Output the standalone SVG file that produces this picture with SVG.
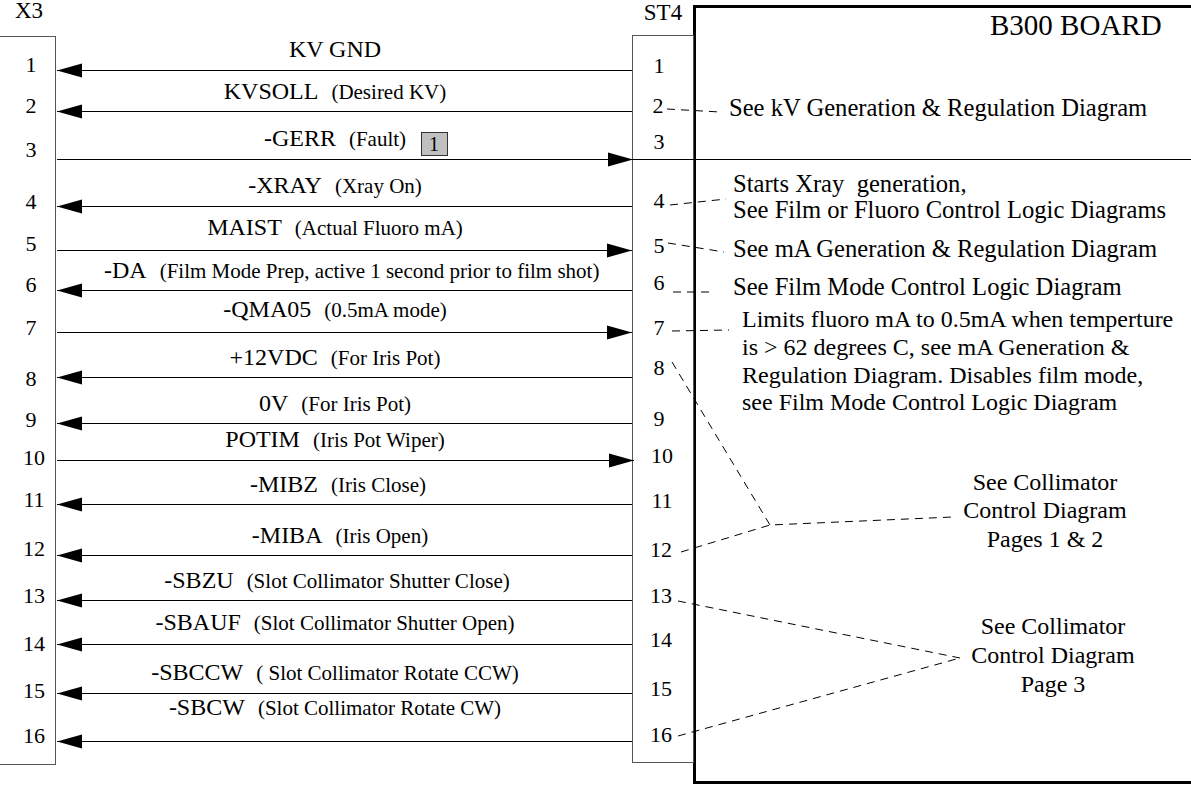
<svg xmlns="http://www.w3.org/2000/svg" width="1191" height="787" viewBox="0 0 1191 787">
<style>
text{font-family:'Liberation Serif','DejaVu Serif','Times New Roman',serif;fill:#000}
.pin{font-size:22px;text-anchor:middle}
.m{font-size:24px}
.p{font-size:21px}
.lbl{text-anchor:middle}
.note{font-size:24.6px}
.lim{font-size:24px}
.cn{font-size:24px;text-anchor:middle}
.w{stroke:#000;stroke-width:1;fill:none}
.d{stroke:#000;stroke-width:1;fill:none;stroke-dasharray:8 6}
.box{fill:#fff;stroke:#555;stroke-width:1}
</style>
<defs>
<marker id="arr" markerUnits="userSpaceOnUse" markerWidth="26" markerHeight="16" refX="25" refY="7" orient="auto" viewBox="0 0 26 14">
<path d="M0,0 L25,7 L0,14 Z" fill="#000"/>
</marker>
</defs>
<rect width="1191" height="787" fill="#fff"/>

<g id="board">
<rect x="694.5" y="6.5" width="510" height="776" fill="#fff" stroke="#000" stroke-width="3"/>
<text x="990" y="35" style="font-size:29px">B300 BOARD</text>
</g>

<g id="X3">
<rect class="box" x="-2" y="36.5" width="57.5" height="728"/>
<text x="29" y="18" style="font-size:23px;text-anchor:middle">X3</text>
<text class="pin" x="31" y="72">1</text>
<text class="pin" x="31" y="113">2</text>
<text class="pin" x="31" y="157">3</text>
<text class="pin" x="31" y="209">4</text>
<text class="pin" x="31" y="251">5</text>
<text class="pin" x="31" y="292">6</text>
<text class="pin" x="31" y="335">7</text>
<text class="pin" x="31" y="386">8</text>
<text class="pin" x="31" y="427">9</text>
<text class="pin" x="34" y="465">10</text>
<text class="pin" x="34" y="507">11</text>
<text class="pin" x="34" y="556">12</text>
<text class="pin" x="34" y="603">13</text>
<text class="pin" x="34" y="651">14</text>
<text class="pin" x="34" y="698">15</text>
<text class="pin" x="34" y="743">16</text>
</g>

<g id="ST4">
<rect class="box" x="632.5" y="35.5" width="61" height="727"/>
<text x="663" y="20" style="font-size:23px;text-anchor:middle">ST4</text>
<text class="pin" x="659" y="73">1</text>
<text class="pin" x="658" y="113">2</text>
<text class="pin" x="659" y="149">3</text>
<text class="pin" x="659" y="208">4</text>
<text class="pin" x="659" y="253">5</text>
<text class="pin" x="659" y="290">6</text>
<text class="pin" x="659" y="335">7</text>
<text class="pin" x="659" y="375">8</text>
<text class="pin" x="659" y="426">9</text>
<text class="pin" x="662" y="463">10</text>
<text class="pin" x="662" y="508">11</text>
<text class="pin" x="661" y="557">12</text>
<text class="pin" x="661" y="603">13</text>
<text class="pin" x="661" y="647">14</text>
<text class="pin" x="661" y="696">15</text>
<text class="pin" x="661" y="742">16</text>
</g>

<g id="connectors">
<line class="w" x1="632" y1="70.5" x2="57" y2="70.5" marker-end="url(#arr)"/>
<line class="w" x1="632" y1="111.5" x2="57" y2="111.5" marker-end="url(#arr)"/>
<line class="w" x1="57" y1="159.5" x2="633" y2="159.5" marker-end="url(#arr)"/>
<line class="w" x1="633" y1="159.5" x2="1191" y2="159.5"/>
<line class="w" x1="632" y1="206.5" x2="57" y2="206.5" marker-end="url(#arr)"/>
<line class="w" x1="57" y1="250.5" x2="632" y2="250.5" marker-end="url(#arr)"/>
<line class="w" x1="632" y1="290.5" x2="57" y2="290.5" marker-end="url(#arr)"/>
<line class="w" x1="57" y1="332.5" x2="632" y2="332.5" marker-end="url(#arr)"/>
<line class="w" x1="632" y1="377.5" x2="57" y2="377.5" marker-end="url(#arr)"/>
<line class="w" x1="632" y1="423.5" x2="57" y2="423.5" marker-end="url(#arr)"/>
<line class="w" x1="57" y1="460.5" x2="634" y2="460.5" marker-end="url(#arr)"/>
<line class="w" x1="632" y1="504.5" x2="57" y2="504.5" marker-end="url(#arr)"/>
<line class="w" x1="632" y1="555.5" x2="57" y2="555.5" marker-end="url(#arr)"/>
<line class="w" x1="632" y1="600.5" x2="57" y2="600.5" marker-end="url(#arr)"/>
<line class="w" x1="632" y1="644.5" x2="57" y2="644.5" marker-end="url(#arr)"/>
<line class="w" x1="632" y1="693.5" x2="57" y2="693.5" marker-end="url(#arr)"/>
<line class="w" x1="632" y1="741.5" x2="57" y2="741.5" marker-end="url(#arr)"/>

<path class="d" d="M667,109 L720,112"/>
<path class="d" d="M670,205 L726,199"/>
<path class="d" d="M668,243 L724,252"/>
<path class="d" d="M673,292 L714,292"/>
<path class="d" d="M672,331 L729,330"/>
<path class="d" d="M672,362 L770,525"/>
<path class="d" d="M681,552 L770,525 L953,517"/>
<path class="d" d="M678,601 L960,658"/>
<path class="d" d="M678,736 L960,658"/>
</g>

<g id="labels">
<text class="lbl" x="335" y="57"><tspan class="m">KV GND</tspan></text>
<text class="lbl" x="335" y="99"><tspan class="m">KVSOLL</tspan><tspan class="p" dx="13">(Desired KV)</tspan></text>
<text class="lbl" x="335" y="146"><tspan class="m">-GERR</tspan><tspan class="p" dx="13">(Fault)</tspan></text>
<text class="lbl" x="335" y="193"><tspan class="m">-XRAY</tspan><tspan class="p" dx="13">(Xray On)</tspan></text>
<text class="lbl" x="335" y="235"><tspan class="m">MAIST</tspan><tspan class="p" dx="13">(Actual Fluoro mA)</tspan></text>
<text x="104" y="278"><tspan class="m">-DA</tspan><tspan class="p" dx="13">(Film Mode Prep, active 1 second prior to film shot)</tspan></text>
<text class="lbl" x="335" y="317"><tspan class="m">-QMA05</tspan><tspan class="p" dx="13">(0.5mA mode)</tspan></text>
<text class="lbl" x="335" y="365"><tspan class="m">+12VDC</tspan><tspan class="p" dx="13">(For Iris Pot)</tspan></text>
<text class="lbl" x="335" y="411"><tspan class="m">0V</tspan><tspan class="p" dx="13">(For Iris Pot)</tspan></text>
<text class="lbl" x="335" y="447"><tspan class="m">POTIM</tspan><tspan class="p" dx="13">(Iris Pot Wiper)</tspan></text>
<text class="lbl" x="338" y="492"><tspan class="m">-MIBZ</tspan><tspan class="p" dx="13">(Iris Close)</tspan></text>
<text class="lbl" x="340" y="543"><tspan class="m">-MIBA</tspan><tspan class="p" dx="13">(Iris Open)</tspan></text>
<text class="lbl" x="337" y="588"><tspan class="m">-SBZU</tspan><tspan class="p" dx="13">(Slot Collimator Shutter Close)</tspan></text>
<text class="lbl" x="335" y="630"><tspan class="m">-SBAUF</tspan><tspan class="p" dx="13">(Slot Collimator Shutter Open)</tspan></text>
<text class="lbl" x="335" y="680"><tspan class="m">-SBCCW</tspan><tspan class="p" dx="13">(&#160;Slot Collimator Rotate CCW)</tspan></text>
<text class="lbl" x="335" y="715"><tspan class="m">-SBCW</tspan><tspan class="p" dx="13">(Slot Collimator Rotate CW)</tspan></text>
</g>

<g id="fault-note">
<rect x="421.5" y="132.5" width="26" height="23" fill="#c0c0c0" stroke="#333" stroke-width="1"/>
<text x="434" y="151" style="font-size:20px;text-anchor:middle">1</text>
</g>

<g id="notes">
<text class="note" x="729" y="116">See kV Generation &amp; Regulation Diagram</text>
<text class="note" x="733" y="192">Starts Xray&#160; generation,</text>
<text class="note" x="733" y="218">See Film or Fluoro Control Logic Diagrams</text>
<text class="note" x="733" y="257">See mA Generation &amp; Regulation Diagram</text>
<text class="note" x="733" y="295">See Film Mode Control Logic Diagram</text>
<text class="lim" x="742" y="327">Limits fluoro mA to 0.5mA when temperture</text>
<text class="lim" x="742" y="355">is &gt; 62 degrees C, see mA Generation &amp;</text>
<text class="lim" x="742" y="383">Regulation Diagram. Disables film mode,</text>
<text class="lim" x="742" y="410">see Film Mode Control Logic Diagram</text>
<text class="cn" x="1045" y="490">See Collimator</text>
<text class="cn" x="1045" y="518">Control Diagram</text>
<text class="cn" x="1045" y="547">Pages 1 &amp; 2</text>
<text class="cn" x="1053" y="634">See Collimator</text>
<text class="cn" x="1053" y="663">Control Diagram</text>
<text class="cn" x="1053" y="692">Page 3</text>
</g>
</svg>
